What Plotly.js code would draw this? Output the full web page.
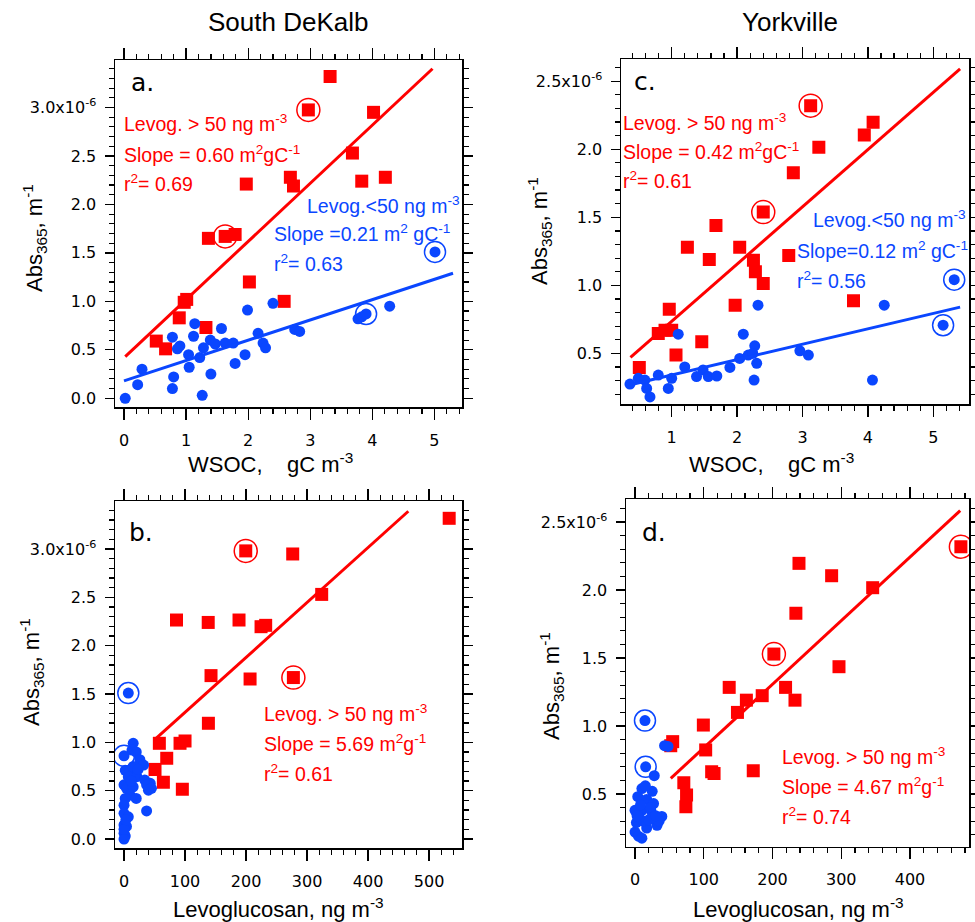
<!DOCTYPE html>
<html><head><meta charset="utf-8">
<script src="https://cdn.plot.ly/plotly-3.0.1.min.js"></script>
<style>html,body{margin:0;padding:0;background:#fff}#chart{width:975px;height:922px}</style>
</head><body><div id="chart"></div>
<script>
// ---------- Panel a: South DeKalb, Abs365 vs WSOC ----------
const a_red_x = [3.32, 4.02, 3.68, 2.68, 2.73, 3.83, 4.21, 1.97, 1.36, 1.79, 2.02, 0.97, 1.01, 0.89, 1.32, 2.58, 0.52, 0.67];
const a_red_y = [3.32, 2.95, 2.53, 2.28, 2.19, 2.24, 2.28, 2.21, 1.65, 1.69, 1.20, 0.99, 1.02, 0.83, 0.73, 1.00, 0.59, 0.51];
const a_redCirc_x = [2.97, 1.63];
const a_redCirc_y = [2.975, 1.67];
const a_blue_x = [0.02, 0.22, 0.29, 0.78, 0.80, 0.78, 0.90, 0.86, 1.04, 1.05, 1.14, 1.12, 1.26, 1.22, 1.28, 1.40, 1.39, 1.47, 1.57, 1.63, 1.76, 1.79, 1.95, 1.99, 2.16, 2.24, 2.28, 2.40, 2.75, 2.83, 3.77, 3.83, 4.28];
const a_blue_y = [0.00, 0.14, 0.30, 0.10, 0.22, 0.63, 0.54, 0.51, 0.45, 0.32, 0.77, 0.64, 0.03, 0.42, 0.52, 0.25, 0.60, 0.56, 0.72, 0.57, 0.57, 0.36, 0.45, 0.91, 0.67, 0.57, 0.52, 0.98, 0.71, 0.69, 0.82, 0.84, 0.95];
const a_blueCirc_x = [5.01, 3.90];
const a_blueCirc_y = [1.51, 0.87];
const a_redFit_x = [0.02, 4.97];
const a_redFit_y = [0.43, 3.40];
const a_blueFit_x = [0.0, 5.30];
const a_blueFit_y = [0.18, 1.29];

// ---------- Panel b: South DeKalb, Abs365 vs Levoglucosan ----------
const b_red_x = [533, 276.5, 324, 86, 138, 188.5, 224.6, 232.2, 142.6, 206.6, 138.3, 57.9, 91.8, 100, 70, 50.8, 64.5, 95.6];
const b_red_y = [3.317, 2.948, 2.53, 2.265, 2.24, 2.265, 2.196, 2.21, 1.69, 1.655, 1.197, 0.99, 0.99, 1.014, 0.835, 0.72, 0.586, 0.514];
const b_redCirc_x = [199.5, 277.6];
const b_redCirc_y = [2.98, 1.67];
const b_blue_x = [15, 13, 20, 26, 32, 2, 10, 15, 7, 21, 34, 43, 37, 45, 40, 0, 4, 15, 10, 20, 2, 0, 37, 0, 7, 0, 4, 0, 2, 0, 0, 3, 23, 12];
const b_blue_y = [0.99, 0.92, 0.90, 0.82, 0.765, 0.71, 0.71, 0.75, 0.645, 0.645, 0.61, 0.576, 0.56, 0.524, 0.505, 0.56, 0.524, 0.54, 0.455, 0.42, 0.42, 0.35, 0.29, 0.266, 0.23, 0.145, 0.13, 0.06, 0.03, 0.0, 0.10, 0.20, 0.72, 0.60];
const b_blueCirc_x = [7, 0];
const b_blueCirc_y = [1.51, 0.86];
const b_redFit_x = [52.5, 466];
const b_redFit_y = [1.04, 3.39];

// ---------- Panel c: Yorkville, Abs365 vs WSOC ----------
const c_red_x = [4.08, 3.945, 3.25, 2.86, 1.677, 1.24, 1.575, 2.04, 2.25, 2.28, 2.40, 2.79, 1.97, 0.963, 0.795, 0.898, 1.0, 1.066, 1.46, 0.505, 3.78];
const c_red_y = [2.198, 2.105, 2.015, 1.827, 1.44, 1.28, 1.19, 1.28, 1.184, 1.10, 1.013, 1.22, 0.854, 0.825, 0.647, 0.67, 0.67, 0.488, 0.585, 0.397, 0.886];
const c_redCirc_x = [3.125, 2.40];
const c_redCirc_y = [2.32, 1.538];
const c_blue_x = [0.362, 0.49, 0.59, 0.617, 0.668, 0.795, 0.948, 1.0, 1.10, 1.20, 1.38, 1.48, 1.56, 1.69, 1.89, 2.04, 2.095, 2.17, 2.26, 2.27, 2.30, 2.32, 2.24, 2.96, 3.09, 4.07, 4.25];
const c_blue_y = [0.275, 0.317, 0.304, 0.243, 0.18, 0.341, 0.243, 0.317, 0.641, 0.40, 0.33, 0.378, 0.33, 0.334, 0.397, 0.463, 0.641, 0.488, 0.304, 0.556, 0.427, 0.854, 0.50, 0.519, 0.488, 0.304, 0.854];
const c_blueCirc_x = [5.15, 5.32];
const c_blueCirc_y = [0.707, 1.042];
const c_redFit_x = [0.37, 5.41];
const c_redFit_y = [0.47, 2.59];
const c_blueFit_x = [0.37, 5.41];
const c_blueFit_y = [0.27, 0.84];

// ---------- Panel d: Yorkville, Abs365 vs Levoglucosan ----------
const d_red_x = [238.5, 286, 345.7, 234, 296.7, 137, 219, 162, 185, 232.7, 149, 99.4, 102.8, 54.8, 52, 71, 75, 74, 111.5, 115, 172];
const d_red_y = [2.196, 2.105, 2.017, 1.829, 1.436, 1.284, 1.284, 1.19, 1.223, 1.19, 1.10, 1.007, 0.824, 0.885, 0.855, 0.583, 0.493, 0.407, 0.664, 0.65, 0.671];
const d_redCirc_x = [474, 202];
const d_redCirc_y = [2.318, 1.529];
const d_blue_x = [43, 48, 28, 10, 25, 4, 17, 27, 0, 10, 23, 39, 32, 17, 2, 0, 5, 10, 12, 20, 6, 22, 8, 35, 15, 3, 30];
const d_blue_y = [0.855, 0.85, 0.635, 0.54, 0.52, 0.48, 0.46, 0.43, 0.38, 0.38, 0.38, 0.335, 0.27, 0.25, 0.29, 0.22, 0.19, 0.175, 0.30, 0.31, 0.33, 0.40, 0.42, 0.30, 0.56, 0.34, 0.34];
const d_blueCirc_x = [14.5, 15.5];
const d_blueCirc_y = [1.04, 0.70];
const d_redFit_x = [52, 473];
const d_redFit_y = [0.615, 2.583];

// ---------- Tick labels ----------
const yTicksA = [0, 0.5, 1.0, 1.5, 2.0, 2.5, 3.0];
const yTextA = ['0.0', '0.5', '1.0', '1.5', '2.0', '2.5', '3.0x10<sup>-6</sup>'];
const yTicksC = [0.5, 1.0, 1.5, 2.0, 2.5];
const yTextC = ['0.5', '1.0', '1.5', '2.0', '2.5x10<sup>-6</sup>'];
const xTicksWSOC_a = [0, 1, 2, 3, 4, 5];
const xTicksWSOC_c = [1, 2, 3, 4, 5];
const xTicksLev_b = [0, 100, 200, 300, 400, 500];
const xTicksLev_d = [0, 100, 200, 300, 400];

// ---------- Texts ----------
const siteTitles = ['South DeKalb', 'Yorkville'];
const yTitle = 'Abs<sub>365</sub>, m<sup>-1</sup>';
const xTitleWSOC = 'WSOC,\u00a0\u00a0\u00a0\u00a0gC m<sup>-3</sup>';
const xTitleLev = 'Levoglucosan, ng m<sup>-3</sup>';

const RED = '#ff0000', BLUE = '#0a46ff';
const W = 975, H = 922;

function pts(x, y, xa, ya, color, symbol, size) {
  return {type: 'scatter', mode: 'markers', x: x, y: y, xaxis: xa, yaxis: ya,
    marker: {color: color, symbol: symbol, size: size, line: {width: 0}},
    showlegend: false, hoverinfo: 'x+y'};
}
function ring(x, y, xa, ya, color, size) {
  return {type: 'scatter', mode: 'markers', x: x, y: y, xaxis: xa, yaxis: ya,
    marker: {color: color, symbol: 'circle-open', size: size, line: {color: color, width: 1.5}},
    showlegend: false, hoverinfo: 'skip'};
}
function fit(x, y, xa, ya, color) {
  return {type: 'scatter', mode: 'lines', x: x, y: y, xaxis: xa, yaxis: ya,
    line: {color: color, width: 3}, showlegend: false, hoverinfo: 'skip'};
}

const SQ = 13, DOT = 11, RRED = 23, RBLUE = 21;
const data = [
  // a
  pts(a_red_x, a_red_y, 'x', 'y', RED, 'square', SQ),
  pts(a_redCirc_x, a_redCirc_y, 'x', 'y', RED, 'square', SQ),
  pts(a_blue_x, a_blue_y, 'x', 'y', BLUE, 'circle', DOT),
  pts(a_blueCirc_x, a_blueCirc_y, 'x', 'y', BLUE, 'circle', DOT),
  ring(a_redCirc_x, a_redCirc_y, 'x', 'y', RED, RRED),
  ring(a_blueCirc_x, a_blueCirc_y, 'x', 'y', BLUE, RBLUE),
  fit(a_redFit_x, a_redFit_y, 'x', 'y', RED),
  fit(a_blueFit_x, a_blueFit_y, 'x', 'y', BLUE),
  // b
  pts(b_red_x, b_red_y, 'x2', 'y2', RED, 'square', SQ),
  pts(b_redCirc_x, b_redCirc_y, 'x2', 'y2', RED, 'square', SQ),
  pts(b_blue_x, b_blue_y, 'x2', 'y2', BLUE, 'circle', DOT),
  pts(b_blueCirc_x, b_blueCirc_y, 'x2', 'y2', BLUE, 'circle', DOT),
  ring(b_redCirc_x, b_redCirc_y, 'x2', 'y2', RED, RRED),
  ring(b_blueCirc_x, b_blueCirc_y, 'x2', 'y2', BLUE, RBLUE),
  fit(b_redFit_x, b_redFit_y, 'x2', 'y2', RED),
  // c
  pts(c_red_x, c_red_y, 'x3', 'y3', RED, 'square', SQ),
  pts(c_redCirc_x, c_redCirc_y, 'x3', 'y3', RED, 'square', SQ),
  pts(c_blue_x, c_blue_y, 'x3', 'y3', BLUE, 'circle', DOT),
  pts(c_blueCirc_x, c_blueCirc_y, 'x3', 'y3', BLUE, 'circle', DOT),
  ring(c_redCirc_x, c_redCirc_y, 'x3', 'y3', RED, RRED),
  ring(c_blueCirc_x, c_blueCirc_y, 'x3', 'y3', BLUE, RBLUE),
  fit(c_redFit_x, c_redFit_y, 'x3', 'y3', RED),
  fit(c_blueFit_x, c_blueFit_y, 'x3', 'y3', BLUE),
  // d
  pts(d_red_x, d_red_y, 'x4', 'y4', RED, 'square', SQ),
  pts(d_redCirc_x, d_redCirc_y, 'x4', 'y4', RED, 'square', SQ),
  pts(d_blue_x, d_blue_y, 'x4', 'y4', BLUE, 'circle', DOT),
  pts(d_blueCirc_x, d_blueCirc_y, 'x4', 'y4', BLUE, 'circle', DOT),
  ring(d_redCirc_x, d_redCirc_y, 'x4', 'y4', RED, RRED),
  ring(d_blueCirc_x, d_blueCirc_y, 'x4', 'y4', BLUE, RBLUE),
  fit(d_redFit_x, d_redFit_y, 'x4', 'y4', RED)
];

const TICKFONT = {family: 'DejaVu Sans, Verdana, sans-serif', size: 16, color: '#000'};
function xax(domain, anchor, range, tickvals, minorDt) {
  return {domain: domain, anchor: anchor, range: range, tickmode: 'array', tickvals: tickvals,
    ticktext: tickvals.map(String), showline: true, linecolor: '#000', linewidth: 1.5,
    mirror: 'allticks', ticks: 'outside', ticklen: 11, tickwidth: 1.3, tickcolor: '#000',
    showgrid: false, zeroline: false, tickfont: TICKFONT, ticklabelstandoff: 7,
    minor: {tickmode: 'linear', tick0: 0, dtick: minorDt, ticks: 'outside', ticklen: 5, tickwidth: 1.2, tickcolor: '#000', showgrid: false},
    fixedrange: true};
}
function yax(domain, anchor, range, tickvals, ticktext) {
  return {domain: domain, anchor: anchor, range: range, tickmode: 'array', tickvals: tickvals,
    ticktext: ticktext, showline: true, linecolor: '#000', linewidth: 1.5,
    mirror: 'allticks', ticks: 'outside', ticklen: 9, tickwidth: 1.3, tickcolor: '#000',
    showgrid: false, zeroline: false, tickfont: TICKFONT, ticklabelstandoff: 5,
    minor: {tickmode: 'linear', tick0: 0, dtick: 0.1, ticks: 'outside', ticklen: 5, tickwidth: 1.2, tickcolor: '#000', showgrid: false},
    fixedrange: true};
}
// pixel helpers for paper placement
const px = v => v / W, py = v => 1 - v / H;

const ANNFONT = 'Liberation Sans, Arial, sans-serif';
const NOTE = 19.5;
function note(xref, yref, x, y, text, color, size, xanchor, family, angle) {
  return {xref: xref, yref: yref, x: x, y: y, text: text, showarrow: false,
    xanchor: xanchor || 'left', yanchor: 'middle', textangle: angle || 0,
    font: {family: family || ANNFONT, size: size || NOTE, color: color || '#000'}};
}

const annotations = [
  // site titles
  note('paper', 'paper', px(288), py(22), siteTitles[0], '#000', 26, 'center'),
  note('paper', 'paper', px(790), py(22), siteTitles[1], '#000', 26, 'center'),
  // panel letters
  note('paper', 'paper', px(129), py(83), 'a.', '#000', 25, 'left', 'DejaVu Sans, sans-serif'),
  note('paper', 'paper', px(127), py(532), 'b.', '#000', 25, 'left', 'DejaVu Sans, sans-serif'),
  note('paper', 'paper', px(632), py(81), 'c.', '#000', 25, 'left', 'DejaVu Sans, sans-serif'),
  note('paper', 'paper', px(640), py(532), 'd.', '#000', 25, 'left', 'DejaVu Sans, sans-serif'),
  // axis titles
  note('paper', 'paper', px(270), py(463), xTitleWSOC, '#000', 22, 'center'),
  note('paper', 'paper', px(278), py(908), xTitleLev, '#000', 22, 'center'),
  note('paper', 'paper', px(771), py(463), xTitleWSOC, '#000', 22, 'center'),
  note('paper', 'paper', px(798), py(908), xTitleLev, '#000', 22, 'center'),
  note('paper', 'paper', px(34), py(238), yTitle, '#000', 22, 'center', null, -90),
  note('paper', 'paper', px(31), py(672), yTitle, '#000', 22, 'center', null, -90),
  note('paper', 'paper', px(539), py(231), yTitle, '#000', 22, 'center', null, -90),
  note('paper', 'paper', px(551), py(686), yTitle, '#000', 22, 'center', null, -90),
  // panel a texts
  note('x', 'y', -0.04, 2.84, 'Levog. &gt; 50 ng m<sup>-3</sup>', RED),
  note('x', 'y', -0.04, 2.52, 'Slope = 0.60 m<sup>2</sup>gC<sup>-1</sup>', RED),
  note('x', 'y', -0.04, 2.22, 'r<sup>2</sup>= 0.69', RED),
  note('x', 'y', 2.92, 1.99, 'Levog.&lt;50 ng m<sup>-3</sup>', BLUE),
  note('x', 'y', 2.38, 1.70, 'Slope =0.21 m<sup>2</sup> gC<sup>-1</sup>', BLUE),
  note('x', 'y', 2.38, 1.40, 'r<sup>2</sup>= 0.63', BLUE),
  // panel b texts
  note('x2', 'y2', 226, 1.30, 'Levog. &gt; 50 ng m<sup>-3</sup>', RED),
  note('x2', 'y2', 226, 0.99, 'Slope = 5.69 m<sup>2</sup>g<sup>-1</sup>', RED),
  note('x2', 'y2', 226, 0.685, 'r<sup>2</sup>= 0.61', RED),
  // panel c texts
  note('x3', 'y3', 0.225, 2.20, 'Levog. &gt; 50 ng m<sup>-3</sup>', RED),
  note('x3', 'y3', 0.225, 1.99, 'Slope = 0.42 m<sup>2</sup>gC<sup>-1</sup>', RED),
  note('x3', 'y3', 0.225, 1.775, 'r<sup>2</sup>= 0.61', RED),
  note('x3', 'y3', 3.13, 1.49, 'Levog.&lt;50 ng m<sup>-3</sup>', BLUE),
  note('x3', 'y3', 2.89, 1.26, 'Slope=0.12 m<sup>2</sup> gC<sup>-1</sup>', BLUE),
  note('x3', 'y3', 2.89, 1.04, 'r<sup>2</sup>= 0.56', BLUE),
  // panel d texts
  note('x4', 'y4', 211, 0.78, 'Levog. &gt; 50 ng m<sup>-3</sup>', RED),
  note('x4', 'y4', 211, 0.558, 'Slope = 4.67 m<sup>2</sup>g<sup>-1</sup>', RED),
  note('x4', 'y4', 211, 0.34, 'r<sup>2</sup>= 0.74', RED)
];

const layout = {
  width: W, height: H, margin: {l: 0, r: 0, t: 0, b: 0},
  paper_bgcolor: '#fff', plot_bgcolor: '#fff', showlegend: false,
  xaxis: xax([px(115), px(462)], 'y', [-0.145, 5.445], xTicksWSOC_a, 0.2),
  yaxis: yax([py(407), py(60)], 'x', [-0.09, 3.49], yTicksA, yTextA),
  xaxis2: xax([px(115), px(462)], 'y2', [-14.8, 554], xTicksLev_b, 20),
  yaxis2: yax([py(848.3), py(501)], 'x2', [-0.096, 3.496], yTicksA, yTextA),
  xaxis3: xax([px(621), px(969)], 'y3', [0.225, 5.546], xTicksWSOC_c, 0.2),
  yaxis3: yax([py(404.3), py(59)], 'x3', [0.126, 2.663], yTicksC, yTextC),
  xaxis4: xax([px(626), px(969)], 'y4', [-13.1, 485.8], xTicksLev_d, 20),
  yaxis4: yax([py(846.7), py(499.3)], 'x4', [0.1125, 2.667], yTicksC, yTextC),
  annotations: annotations
};

Plotly.newPlot('chart', data, layout, {displayModeBar: false, staticPlot: true});
</script>
</body></html>
